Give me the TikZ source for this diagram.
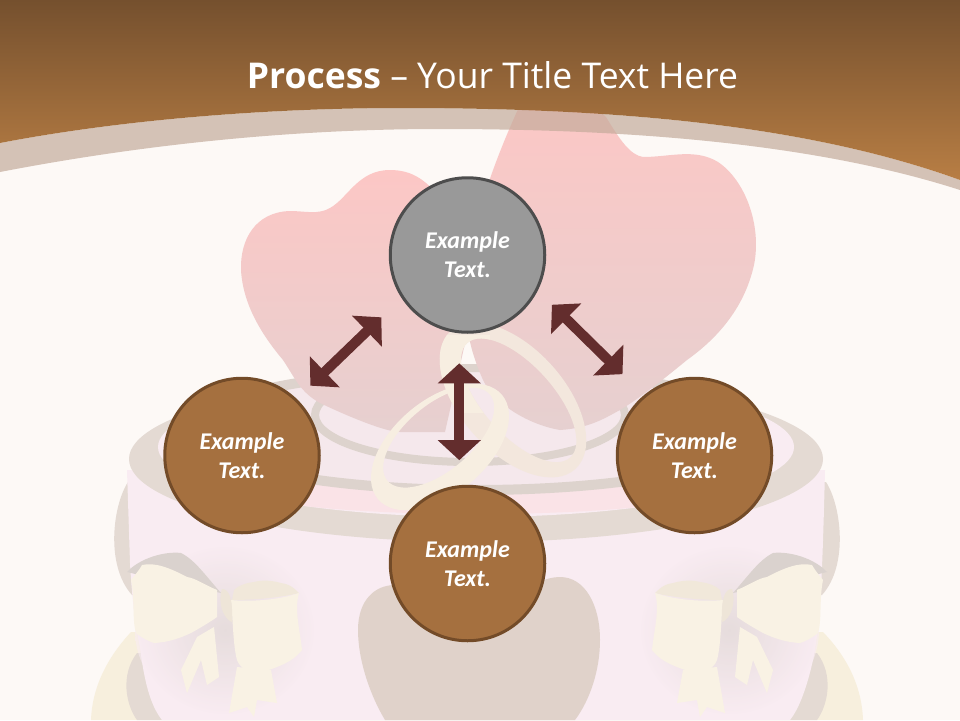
\documentclass[tikz,border=0pt]{standalone}
\usepackage{xcolor}
\usepackage{fontspec}
\usepackage{tikz}
\usetikzlibrary{arrows.meta,positioning,shapes}
\setmainfont{Carlito}
\newfontfamily\titlefont{Open Sans}
\definecolor{paper}{HTML}{FDF9F6}
\definecolor{topbrown}{HTML}{75502E}
\definecolor{lowbrown}{HTML}{B87E44}
\definecolor{discbrown}{HTML}{A5703F}
\definecolor{edgebrown}{HTML}{734B28}
\definecolor{discgray}{HTML}{999999}
\definecolor{edgegray}{HTML}{4D4D4D}
\definecolor{arrowred}{HTML}{632D2D}
\definecolor{bandtan}{HTML}{C4AB9B}
\definecolor{heartpink}{HTML}{FCC7C5}
\definecolor{heartlow}{HTML}{E6D0D0}
\definecolor{caketan}{HTML}{E4DAD3}
\definecolor{cakepink}{HTML}{F9ECF2}
\definecolor{stripetan}{HTML}{DDD3CD}
\definecolor{cakeheart}{HTML}{E0D2CA}
\definecolor{platecream}{HTML}{F7EFDD}
\definecolor{bowcream}{HTML}{F9F2E4}
\definecolor{bowfold}{HTML}{F1E8DA}
\definecolor{bowshade}{HTML}{DAD2CE}
\definecolor{ringcream}{HTML}{F7EEE1}
\newcommand{\cakebow}{%
    \shade[inner color=bowshade,outer color=cakepink,opacity=.6] (225,630) ellipse [x radius=90,y radius=85];
    \fill[bowcream] (214,627) -- (197,637) -- (181,670) -- (187,693) -- (201,660) -- (207,685) -- (219,677) -- cycle;
    \fill[bowcream] (271,670) -- (237,667) -- (229,713) -- (247,707) -- (254,717) -- (257,700) -- (277,703) -- cycle;
    \fill[bowshade] (221,593) .. controls (205,575) and (195,560) .. (181,553) .. controls (165,551) and (140,558) .. (127,572) -- (160,580) -- cycle;
    \fill[bowcream] (217,590) .. controls (205,585) and (195,578) .. (187,577) .. controls (170,568) and (155,562) .. (142,565) .. controls (138,572) and (134,576) .. (131,580) .. controls (135,600) and (132,620) .. (136,633) .. controls (142,638) and (148,641) .. (154,643) .. controls (170,642) and (180,638) .. (191,633) .. controls (200,628) and (210,622) .. (217,617) -- cycle;
    \fill[bowfold] (299,593) .. controls (292,586) and (288,584) .. (281,583) .. controls (270,580) and (262,580) .. (254,582) .. controls (245,583) and (238,586) .. (234,590) -- (232,600) .. controls (255,600) and (285,597) .. (299,593) -- cycle;
    \fill[bowcream] (299,593) .. controls (280,600) and (250,602) .. (231,600) .. controls (233,620) and (233,645) .. (237,660) .. controls (240,668) and (248,672) .. (254,672) .. controls (262,672) and (270,670) .. (277,667) .. controls (287,663) and (296,658) .. (302,650) .. controls (300,630) and (294,610) .. (299,593) -- cycle;
    \fill[bowfold!85!bowshade] (222,589) .. controls (229,589) and (233,598) .. (232,622) .. controls (225,620) and (217,605) .. (222,589) -- cycle;
}
\begin{document}
\begin{tikzpicture}[x=1pt,y=-1pt,
  stage/.style={circle,draw=edgebrown,fill=discbrown,line width=3pt,minimum size=154.5pt,inner sep=0pt,
    text=white,align=center,font=\fontsize{24}{29}\selectfont\bfseries\itshape},
  activestage/.style={stage,draw=edgegray,fill=discgray},
  link/.style={{Triangle[width=42pt,length=20pt]}-{Triangle[width=42pt,length=20pt]},line width=10pt,arrowred},
  slide title/.style={text=white,inner sep=0pt,font=\fontsize{35.5}{42}\selectfont\titlefont}]

    \useasboundingbox (0,0) rectangle (960,720);
    \fill[paper] (0,0) rectangle (960,720);

    \fill[platecream] (91,720) .. controls (92,690) and (105,660) .. (131,632) -- (823,632) .. controls (850,660) and (862,690) .. (863,720) -- cycle;
    \fill[caketan] (137,720) .. controls (126,705) and (120,675) .. (137,653) -- (817,653) .. controls (834,675) and (828,705) .. (817,720) -- cycle;
    \fill[caketan] (128,482) .. controls (113,505) and (105,565) .. (132,595) -- (822,595) .. controls (849,565) and (841,505) .. (826,482) -- cycle;
    \fill[cakepink] (127,470) -- (130,563) .. controls (132,600) and (136,630) .. (140,647) .. controls (144,680) and (150,705) .. (162,720) -- (790,720) .. controls (802,705) and (810,675) .. (814,655) .. controls (820,620) and (822,590) .. (825,470) -- cycle;

    \fill[caketan] (476,459) ellipse [x radius=347,y radius=83];
    \fill[cakepink] (476,447) ellipse [x radius=318,y radius=70];
    \fill[cakepink!75!heartpink] (476,490) ellipse [x radius=230,y radius=24];
    \fill[cakepink!85!stripetan] (476,432) ellipse [x radius=290,y radius=62];
    \draw[stripetan,line width=10pt] (476,430) ellipse [x radius=287,y radius=60];
    \fill[cakepink!85!stripetan] (470,415) ellipse [x radius=155,y radius=47];
    \draw[stripetan,line width=8pt] (470,415) ellipse [x radius=155,y radius=47];

    \shade[top color=heartpink,middle color=heartpink,bottom color=heartlow] (520,105) .. controls (545,105) and (590,100) .. (606,117) .. controls (620,140) and (630,155) .. (643,157) .. controls (670,157) and (695,148) .. (718,162) .. controls (745,180) and (762,225) .. (754,265) .. controls (744,310) and (715,340) .. (687,360) .. controls (665,378) and (640,398) .. (620,410) .. controls (605,418) and (590,428) .. (560,430) .. controls (530,425) and (495,405) .. (483,380) .. controls (472,355) and (465,330) .. (466,300) .. controls (466,240) and (490,170) .. (520,105) -- cycle;
    \shade[top color=heartpink,middle color=heartpink,bottom color=heartlow] (241,270) .. controls (240,240) and (255,212) .. (290,211) .. controls (305,211) and (318,215) .. (330,208) .. controls (348,198) and (358,170) .. (390,170) .. controls (412,170) and (428,180) .. (445,205) -- (468,330) -- (445,432) -- (400,432) .. controls (385,432) and (345,415) .. (320,403) .. controls (300,392) and (295,378) .. (283,360) .. controls (262,335) and (243,305) .. (241,270) -- cycle;

    \fill[cakeheart] (358,630) .. controls (358,600) and (375,585) .. (395,585) .. controls (430,585) and (450,610) .. (480,625) .. controls (505,610) and (530,577) .. (560,577) .. controls (585,577) and (600,605) .. (600,640) .. controls (600,670) and (590,700) .. (575,720) -- (385,720) .. controls (370,695) and (358,660) .. (358,630) -- cycle;

    \cakebow
    \begin{scope}[xshift=954pt,xscale=-1]
        \cakebow
    \end{scope}

    \fill[ringcream!75!heartlow,even odd rule,rotate around={-48:(513,400)}] (513,400) ellipse [x radius=93,y radius=52] (517,396) ellipse [x radius=77,y radius=35];
    \fill[ringcream,even odd rule,rotate around={40:(440,447)}] (440,447) ellipse [x radius=81,y radius=47] (445,439) ellipse [x radius=67,y radius=33];
    \begin{scope}
        \clip (435,335) rectangle (490,412);
        \fill[ringcream,even odd rule,rotate around={-48:(513,400)}] (513,400) ellipse [x radius=93,y radius=52] (517,396) ellipse [x radius=77,y radius=35];
    \end{scope}

    \fill[bandtan,opacity=.7] (0,143) .. controls (130,118) and (280,108) .. (400,108) .. controls (600,108) and (800,122) .. (960,180) -- (960,190) .. controls (820,145) and (640,129) .. (440,129) .. controls (290,129) and (140,145) .. (0,172) -- cycle;
    \shade[top color=topbrown,bottom color=lowbrown] (0,0) -- (960,0) -- (960,180) .. controls (800,122) and (600,108) .. (400,108) .. controls (280,108) and (130,118) .. (0,143) -- cycle;

    \node[slide title] (title) at (492.5,75) {\textbf{Process} – Your Title Text Here};

    \node[activestage] (top) at (467.5,255) {Example\\Text.};
    \node[stage] (left) at (242,455.5) {Example\\Text.};
    \node[stage] (right) at (694.5,455.5) {Example\\Text.};
    \node[stage] (bottom) at (467.5,563.5) {Example\\Text.};

    \draw[link,shorten <=28pt,shorten >=19pt] (top.213) -- (left.46);
    \draw[link,shorten <=20pt,shorten >=30pt] (top.-27.5) -- (right.130.7);
    \draw[link,shorten <=30pt,shorten >=25pt] (top.-96.2) -- (bottom.96.2);
\end{tikzpicture}
\end{document}
